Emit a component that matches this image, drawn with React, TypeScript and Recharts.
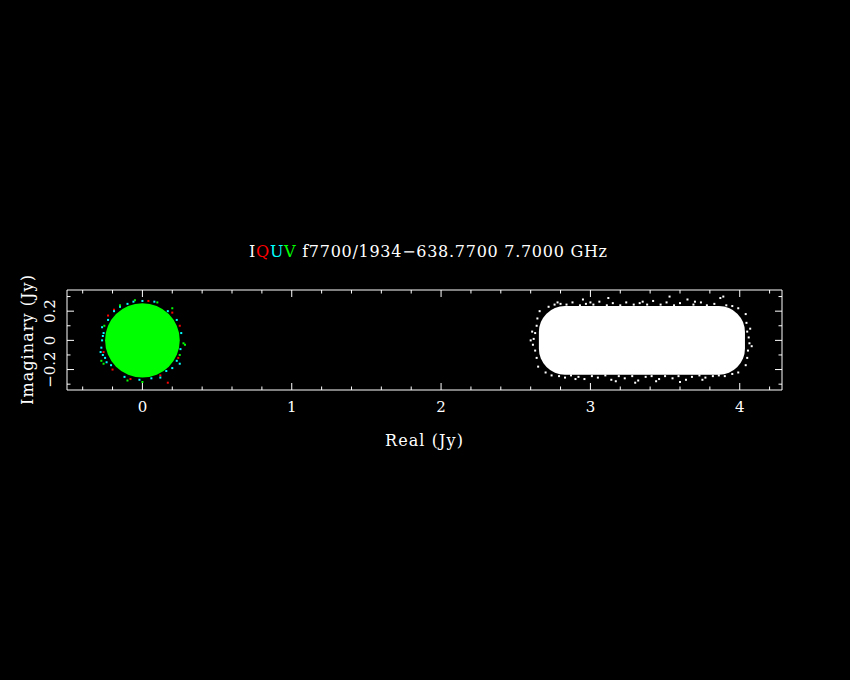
import React from 'react';
import { ScatterChart, Scatter, XAxis, YAxis, ReferenceArea, Label } from 'recharts';

// axis ranges and tick values
const X_DOMAIN = [-0.505, 4.283];
const Y_DOMAIN = [-0.34, 0.345];
const X_TICKS = [-0.4, -0.2, 0, 0.2, 0.4, 0.6, 0.8, 1, 1.2, 1.4, 1.6, 1.8, 2, 2.2, 2.4, 2.6, 2.8, 3, 3.2, 3.4, 3.6, 3.8, 4, 4.2];
const X_MAJOR_LABELS = ['0', '1', '2', '3', '4'];
const Y_TICKS = [-0.3, -0.2, -0.1, 0, 0.1, 0.2, 0.3];
const Y_MAJOR = [-0.2, 0, 0.2];
const Y_MAJOR_LABELS = ['\u22120.2', '0', '0.2'];

// dense parts of the two clouds (data units)
const I_CORE_X = [2.655, 4.035];
const I_CORE_Y = [-0.235, 0.235];
const V_CORE_X = [-0.25, 0.25];
const V_CORE_Y = [-0.255, 0.255];

// ragged edge points
const I_EDGE: [number, number][] = [
  [2.72, 0.23], [2.76, 0.245], [2.8, 0.25], [2.84, 0.245], [2.88, 0.26], [2.93, 0.24], [2.97, 0.25],
  [3.02, 0.245], [3.06, 0.265], [3.11, 0.24], [3.15, 0.255], [3.2, 0.24], [3.24, 0.26], [3.29, 0.245],
  [3.33, 0.255], [3.38, 0.245], [3.42, 0.27], [3.47, 0.245], [3.51, 0.26], [3.56, 0.24], [3.6, 0.255],
  [3.65, 0.28], [3.69, 0.245], [3.74, 0.26], [3.78, 0.24], [3.83, 0.25], [3.87, 0.29], [3.91, 0.24],
  [3.95, 0.235], [3.99, 0.22], [3.53, 0.3], [3.12, 0.29], [2.95, 0.28], [2.78, 0.26], [3.0, 0.26],
  [3.35, 0.265], [3.7, 0.265], [3.89, 0.3],
  [2.7, -0.22], [2.74, -0.24], [2.79, -0.245], [2.83, -0.255], [2.87, -0.24], [2.92, -0.25], [2.96, -0.265],
  [3.01, -0.245], [3.05, -0.255], [3.1, -0.24], [3.14, -0.27], [3.19, -0.245], [3.23, -0.26], [3.28, -0.245],
  [3.32, -0.275], [3.37, -0.25], [3.41, -0.245], [3.46, -0.265], [3.5, -0.245], [3.55, -0.26], [3.59, -0.245],
  [3.64, -0.27], [3.68, -0.25], [3.73, -0.24], [3.77, -0.255], [3.82, -0.245], [3.86, -0.24], [3.9, -0.245],
  [3.95, -0.23], [3.99, -0.22], [3.3, -0.29], [3.6, -0.285], [2.9, -0.265], [3.17, -0.28], [3.44, -0.28],
  [3.75, -0.27],
  [2.66, 0.2], [2.645, 0.15], [2.64, 0.1], [2.63, 0.05], [2.62, 0.01], [2.615, -0.03], [2.63, -0.07],
  [2.64, -0.12], [2.65, -0.18], [2.6, 0.0], [2.61, 0.06],
  [4.04, 0.18], [4.045, 0.12], [4.05, 0.06], [4.06, 0.02], [4.065, -0.02], [4.055, -0.07], [4.05, -0.12],
  [4.04, -0.17], [4.08, -0.04], [4.07, 0.08],
];
const Q_EDGE: [number, number][] = [
  [-0.19, 0.21], [-0.23, 0.17], [0.04, 0.27], [0.2, 0.19], [0.25, 0.1], [0.24, -0.12], [0.12, -0.24],
  [-0.08, -0.265], [-0.2, -0.2], [-0.26, -0.08], [0.17, -0.29],
];
const U_EDGE: [number, number][] = [
  [-0.275, -0.05], [-0.265, -0.1], [-0.26, 0.05], [-0.23, 0.14], [-0.19, 0.2], [-0.1, 0.25], [0.0, 0.27],
  [0.08, 0.265], [0.17, 0.2], [0.23, 0.14], [0.26, 0.05], [0.255, -0.06], [0.23, -0.14], [0.16, -0.21],
  [0.06, -0.26], [-0.02, -0.27], [-0.12, -0.25], [-0.21, -0.17], [-0.25, -0.12], [-0.27, 0.0],
  [-0.28, -0.08], [-0.27, 0.09], [0.25, -0.16], [-0.15, 0.23], [-0.06, 0.265], [0.12, -0.255],
  [-0.24, -0.15], [0.2, -0.19], [-0.265, 0.03],
];
const V_EDGE: [number, number][] = [
  [-0.275, -0.14], [-0.26, -0.16], [0.285, -0.03], [0.275, -0.02], [-0.15, 0.24], [0.1, 0.26], [0.25, -0.1],
  [-0.1, -0.275], [0.0, -0.285], [-0.05, 0.275], [0.2, 0.22], [-0.255, 0.1],
];

const toPts = (arr: [number, number][]) => arr.map(([x, y]) => ({ x, y }));

// frame in page pixels
const TOP = 290;
const BOTTOM = 390;
const LEFT = 67;
const RIGHT = 782;
const FONT = '"DejaVu Serif", serif';

const dot = (color: string) => (p: any) => (
  <rect x={p.cx - 1} y={p.cy - 1} width={2} height={2} fill={color} />
);

const XTick = (p: any) => {
  const v = p.payload.value;
  const major = Math.abs(v - Math.round(v)) < 1e-6;
  const len = major ? 7 : 3.5;
  const idx = Math.round(v);
  return (
    <g>
      <line x1={p.x} x2={p.x} y1={BOTTOM} y2={BOTTOM - len} stroke="#fff" />
      <line x1={p.x} x2={p.x} y1={TOP} y2={TOP + len} stroke="#fff" />
      {major && (
        <text x={p.x} y={412} fill="#fff" textAnchor="middle" fontFamily={FONT} fontSize={15}>
          {X_MAJOR_LABELS[idx]}
        </text>
      )}
    </g>
  );
};

const YTick = (p: any) => {
  const v = p.payload.value;
  const mi = Y_MAJOR.findIndex((m) => Math.abs(m - v) < 1e-6);
  const len = mi >= 0 ? 7 : 3.5;
  return (
    <g>
      <line x1={LEFT} x2={LEFT + len} y1={p.y} y2={p.y} stroke="#fff" />
      <line x1={RIGHT} x2={RIGHT - len} y1={p.y} y2={p.y} stroke="#fff" />
      {mi >= 0 && (
        <text x={55} y={p.y} fill="#fff" textAnchor="middle" fontFamily={FONT} fontSize={15}
          transform={`rotate(-90, 55, ${p.y})`}>
          {Y_MAJOR_LABELS[mi]}
        </text>
      )}
    </g>
  );
};

export default function App() {
  return (
    <div style={{ position: 'fixed', left: 0, top: 0, width: 850, height: 680, background: '#000' }}>
      <ScatterChart width={850} height={680} margin={{ top: TOP, right: 850 - RIGHT, bottom: 230, left: 7 }}>
        <XAxis type="number" dataKey="x" domain={X_DOMAIN} ticks={X_TICKS} interval={0}
          allowDataOverflow axisLine={false} tickLine={false} tick={<XTick />} height={60}>
          <Label content={() => (
            <text x={424} y={446} fill="#fff" textAnchor="middle" fontFamily={FONT} fontSize={16}
              textLength={78} lengthAdjust="spacing">Real (Jy)</text>
          )} />
        </XAxis>
        <YAxis type="number" dataKey="y" domain={Y_DOMAIN} ticks={Y_TICKS} interval={0}
          allowDataOverflow axisLine={false} tickLine={false} tick={<YTick />} width={60}>
          <Label content={() => (
            <text x={33} y={340} fill="#fff" textAnchor="middle" fontFamily={FONT} fontSize={16}
              textLength={130} lengthAdjust="spacing"
              transform="rotate(-90, 33, 340)">Imaginary (Jy)</text>
          )} />
        </YAxis>
        <ReferenceArea x1={X_DOMAIN[0]} x2={X_DOMAIN[1]} y1={Y_DOMAIN[0]} y2={Y_DOMAIN[1]}
          fill="none" stroke="#fff" strokeWidth={1} fillOpacity={0} />
        <ReferenceArea x1={I_CORE_X[0]} x2={I_CORE_X[1]} y1={I_CORE_Y[0]} y2={I_CORE_Y[1]}
          shape={(p: any) => (
            <rect x={p.x} y={p.y} width={p.width} height={p.height} rx={26} ry={26} fill="#fff" />
          )} />
        <ReferenceArea x1={V_CORE_X[0]} x2={V_CORE_X[1]} y1={V_CORE_Y[0]} y2={V_CORE_Y[1]}
          shape={(p: any) => (
            <ellipse cx={p.x + p.width / 2} cy={p.y + p.height / 2} rx={p.width / 2} ry={p.height / 2} fill="#00ff00" />
          )} />
        <Scatter name="I" data={toPts(I_EDGE)} shape={dot('#ffffff')} isAnimationActive={false} />
        <Scatter name="Q" data={toPts(Q_EDGE)} shape={dot('#ff0000')} isAnimationActive={false} />
        <Scatter name="U" data={toPts(U_EDGE)} shape={dot('#00ffff')} isAnimationActive={false} />
        <Scatter name="V" data={toPts(V_EDGE)} shape={dot('#00ff00')} isAnimationActive={false} />
      </ScatterChart>
      <svg width={850} height={680} style={{ position: 'absolute', left: 0, top: 0, pointerEvents: 'none' }}>
        <text x={249} y={257} fontFamily={FONT} fontSize={16} fill="#fff" textLength={358} lengthAdjust="spacing">
          <tspan fill="#ffffff">I</tspan>
          <tspan fill="#ff0000">Q</tspan>
          <tspan fill="#00ffff">U</tspan>
          <tspan fill="#00ff00">V</tspan>
          <tspan fill="#ffffff"> f7700/1934{'\u2212'}638.7700 7.7000 GHz</tspan>
        </text>
      </svg>
    </div>
  );
}
